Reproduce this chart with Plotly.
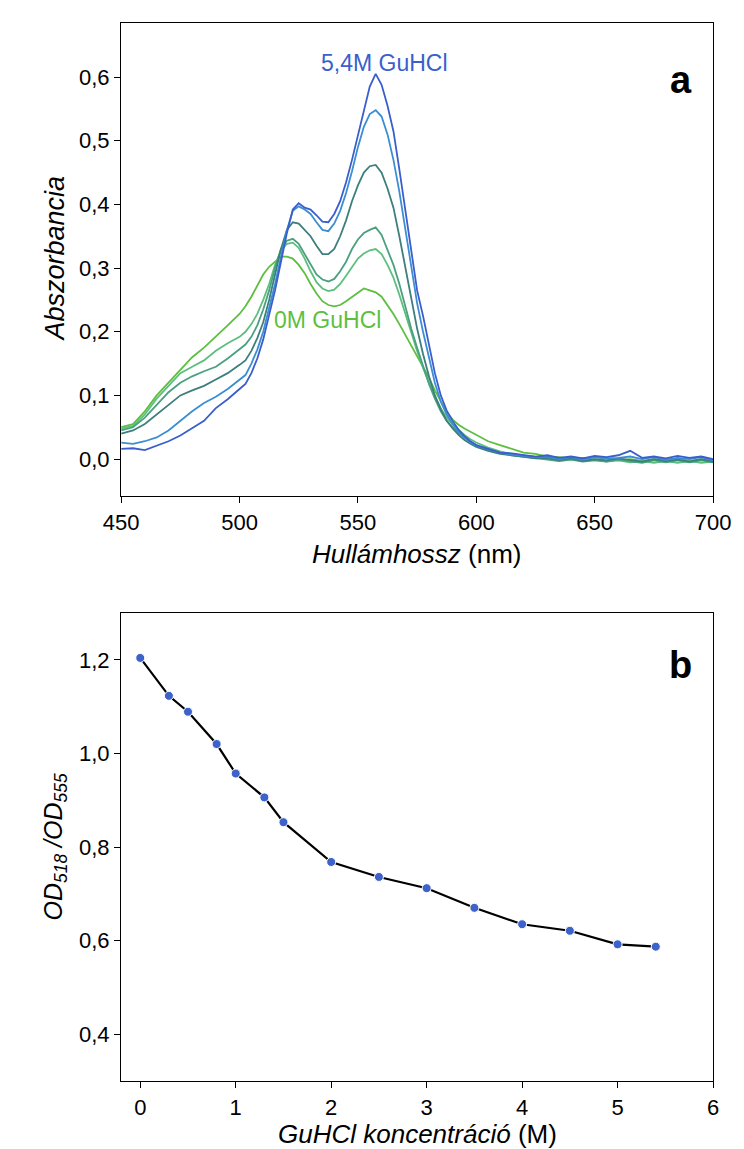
import plotly.graph_objects as go

# ---------------- data: panel a (spectra) ----------------
wavelength = [450, 455, 460, 465, 470, 475, 480, 485, 490, 495, 500,
              502.5, 505, 507.5, 510, 512.5, 515, 517.5, 520, 522.5, 525, 527.5, 530, 532.5, 535, 537.5,
              540, 542.5, 545, 547.5, 550, 552.5, 555, 557.5, 560, 562.5, 565, 567.5, 570, 572.5, 575,
              577.5, 580, 582.5, 585, 587.5, 590, 592.5, 595, 597.5, 600,
              605, 610, 615, 620, 625, 630, 635, 640, 645, 650, 655, 660, 665, 670, 675, 680, 685, 690, 695, 700]

abs_0M = [0.05, 0.055, 0.075, 0.1, 0.12, 0.14, 0.16, 0.175, 0.192, 0.21, 0.228,
          0.24, 0.255, 0.272, 0.29, 0.302, 0.31, 0.318, 0.318, 0.315, 0.305, 0.292, 0.275, 0.26, 0.248, 0.242,
          0.24, 0.242, 0.248, 0.255, 0.262, 0.268, 0.265, 0.262, 0.255, 0.242, 0.228, 0.212, 0.195, 0.178, 0.162,
          0.146, 0.128, 0.108, 0.09, 0.074, 0.062, 0.054, 0.048, 0.043, 0.038,
          0.028, 0.022, 0.016, 0.01, 0.008, 0.004, 0.003, 0.001, 0.002, -0.001, 0.001, -0.002, 0.0, -0.003, 0.0,
          -0.002, 0.001, -0.003, 0.0, -0.002]

abs_c1 = [0.048, 0.052, 0.07, 0.095, 0.115, 0.135, 0.145, 0.155, 0.17, 0.182, 0.192,
          0.2, 0.212, 0.228, 0.25, 0.275, 0.305, 0.328, 0.338, 0.34, 0.332, 0.315, 0.295, 0.278, 0.268, 0.264,
          0.266, 0.275, 0.288, 0.302, 0.315, 0.323, 0.328, 0.33, 0.322, 0.305, 0.285, 0.258, 0.228, 0.198, 0.17,
          0.143, 0.12, 0.098, 0.08, 0.065, 0.055, 0.046, 0.038, 0.031, 0.026,
          0.018, 0.012, 0.008, 0.005, 0.004, 0.001, -0.002, 0.0, -0.003, -0.001, -0.004, -0.002, -0.005, -0.003,
          -0.006, -0.003, -0.006, -0.003, -0.006, -0.004]

abs_c2 = [0.045, 0.05, 0.065, 0.085, 0.105, 0.12, 0.13, 0.138, 0.145, 0.158, 0.172,
          0.18, 0.192, 0.21, 0.235, 0.265, 0.3, 0.33, 0.343, 0.346, 0.338, 0.322, 0.305, 0.29, 0.282, 0.279,
          0.283, 0.295, 0.31, 0.33, 0.345, 0.355, 0.36, 0.364, 0.352, 0.33, 0.305, 0.275, 0.24, 0.205, 0.175,
          0.145, 0.118, 0.095, 0.075, 0.06, 0.05, 0.041, 0.034, 0.027, 0.022,
          0.015, 0.01, 0.006, 0.004, 0.002, 0.0, -0.003, -0.001, -0.004, -0.002, -0.004, -0.001, -0.003, -0.006,
          -0.002, -0.005, -0.002, -0.005, -0.002, -0.005]

abs_c3 = [0.04, 0.045, 0.055, 0.07, 0.085, 0.1, 0.108, 0.115, 0.125, 0.135, 0.148,
          0.155, 0.17, 0.19, 0.215, 0.25, 0.29, 0.33, 0.36, 0.372, 0.37, 0.36, 0.35, 0.335, 0.322, 0.322,
          0.33, 0.35, 0.375, 0.405, 0.43, 0.45, 0.46, 0.462, 0.45, 0.425, 0.395, 0.35, 0.3, 0.25, 0.205,
          0.165, 0.13, 0.1, 0.078, 0.06, 0.048, 0.038, 0.03, 0.024, 0.019,
          0.013, 0.008, 0.006, 0.004, 0.001, 0.002, -0.002, 0.001, -0.003, 0.0, -0.002, 0.001, -0.001, -0.004,
          0.0, -0.003, -0.001, -0.004, 0.0, -0.004]

abs_c4 = [0.026, 0.024, 0.028, 0.034, 0.045, 0.06, 0.075, 0.088, 0.098, 0.11, 0.125,
          0.132, 0.15, 0.172, 0.2, 0.237, 0.275, 0.318, 0.36, 0.39, 0.397, 0.392, 0.385, 0.372, 0.36, 0.358,
          0.37, 0.39, 0.418, 0.452, 0.49, 0.522, 0.542, 0.548, 0.538, 0.51, 0.47, 0.42, 0.36, 0.3, 0.245,
          0.2, 0.16, 0.12, 0.09, 0.07, 0.055, 0.043, 0.034, 0.026, 0.021,
          0.015, 0.01, 0.007, 0.005, 0.003, 0.004, 0.0, 0.003, -0.001, 0.003, 0.001, 0.002, 0.004, 0.0,
          0.003, -0.001, 0.002, 0.0, 0.003, -0.002]

abs_5_4M = [0.016, 0.017, 0.014, 0.021, 0.028, 0.037, 0.048, 0.06, 0.08, 0.094, 0.11,
            0.118, 0.135, 0.158, 0.188, 0.225, 0.265, 0.31, 0.355, 0.392, 0.402, 0.395, 0.392, 0.383, 0.373, 0.372,
            0.385, 0.405, 0.435, 0.47, 0.51, 0.55, 0.585, 0.605, 0.588, 0.555, 0.515, 0.455, 0.39, 0.325, 0.265,
            0.225, 0.18, 0.135, 0.1, 0.076, 0.06, 0.046, 0.036, 0.028, 0.022,
            0.016, 0.01, 0.009, 0.006, 0.004, 0.006, 0.002, 0.004, 0.001, 0.005, 0.003, 0.006, 0.013, 0.002,
            0.004, 0.001, 0.005, 0.002, 0.004, 0.0]

spectra = [abs_0M, abs_c1, abs_c2, abs_c3, abs_c4, abs_5_4M]
spectra_names = ["0 M", "c1", "c2", "c3", "c4", "5,4 M"]
spectra_colors = ["#5dbf3f", "#5cbf7d", "#4aa07f", "#3d7f7c", "#3c8ed3", "#3a5fcd"]

# ---------------- data: panel b (ratio) ----------------
guhcl_conc = [0, 0.3, 0.5, 0.8, 1.0, 1.3, 1.5, 2.0, 2.5, 3.0, 3.5, 4.0, 4.5, 5.0, 5.4]
od_ratio = [1.204, 1.123, 1.089, 1.020, 0.957, 0.906, 0.853, 0.768, 0.736, 0.712, 0.670,
            0.635, 0.621, 0.592, 0.587]

W, H = 744, 1149
FONT = "Liberation Sans, Arial, sans-serif"

fig = go.Figure()

for vals, name, col in zip(spectra, spectra_names, spectra_colors):
    fig.add_trace(go.Scatter(x=wavelength, y=vals, mode="lines", name=name,
                             line=dict(color=col, width=1.8), xaxis="x", yaxis="y",
                             showlegend=False))

fig.add_trace(go.Scatter(x=guhcl_conc, y=od_ratio, mode="lines+markers",
                         line=dict(color="black", width=2.2),
                         marker=dict(color="#3d62c9", size=9, line=dict(color="white", width=1)),
                         xaxis="x2", yaxis="y2", showlegend=False))

def px_x(p):
    return p / W

def px_y(p):
    return 1 - p / H

axis_common = dict(showline=True, linecolor="black", linewidth=1.3, mirror=True,
                   ticks="outside", ticklen=6, tickwidth=1.3, tickcolor="black",
                   showgrid=False, zeroline=False,
                   tickfont=dict(family=FONT, size=22, color="black"))

fig.update_layout(
    width=W, height=H,
    margin=dict(l=0, r=0, t=0, b=0),
    paper_bgcolor="white", plot_bgcolor="white",
    separators=", ",
    font=dict(family=FONT, color="black"),
    xaxis=dict(domain=[px_x(100), px_x(722)], range=[450, 700], tickvals=[450, 500, 550, 600, 650, 700],
               anchor="y", **axis_common),
    yaxis=dict(domain=[px_y(488), px_y(15)], range=[-0.058, 0.685], tickvals=[0, 0.1, 0.2, 0.3, 0.4, 0.5, 0.6],
               tickformat=".1f", anchor="x", **axis_common),
    xaxis2=dict(domain=[px_x(100), px_x(722)], range=[-0.2, 6], tickvals=[0, 1, 2, 3, 4, 5, 6],
                anchor="y2", **axis_common),
    yaxis2=dict(domain=[px_y(1073), px_y(605)], range=[0.3, 1.3], tickvals=[0.4, 0.6, 0.8, 1.0, 1.2],
                tickformat=".1f", anchor="x2", **axis_common),
)

def label(text, xp, yp, size, angle=0, color="black"):
    return dict(text=text, x=px_x(xp), y=px_y(yp), xref="paper", yref="paper",
                xanchor="center", yanchor="middle", showarrow=False, textangle=angle,
                font=dict(size=size, family=FONT, color=color))

ann = [
    label("<i>Hullámhossz</i> (nm)", 411, 546, 26),
    label("<i>Abszorbancia</i>", 30, 251, 27, angle=-90),
    label("<i>GuHCl koncentráció</i> (M)", 411, 1126, 26),
    label("<i>OD<sub>518</sub> /OD<sub>555</sub></i>", 30, 839, 25, angle=-90),
    label("<b>a</b>", 688, 72, 38),
    label("<b>b</b>", 688, 657, 38),
]
# curve labels (placed in data coordinates)
ann.append(dict(text="5,4M GuHCl", x=561.3, y=0.622, xref="x", yref="y", showarrow=False,
                xanchor="center", yanchor="middle",
                font=dict(size=23, family=FONT, color="#3a5fcd")))
ann.append(dict(text="0M GuHCl", x=537.2, y=0.218, xref="x", yref="y", showarrow=False,
                xanchor="center", yanchor="middle",
                font=dict(size=23, family=FONT, color="#5dbf3f")))

fig.update_layout(annotations=ann)

fig.write_html("out.html")
